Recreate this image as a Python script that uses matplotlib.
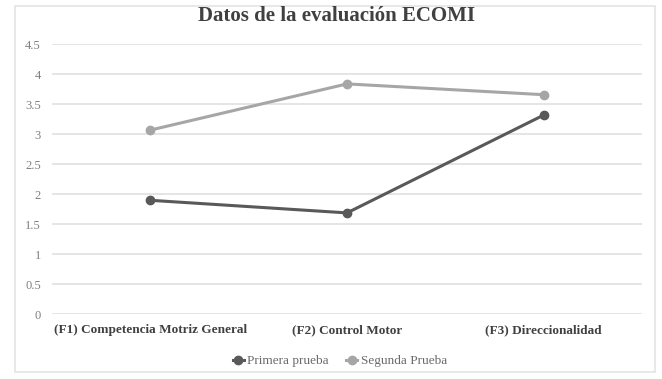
import matplotlib
matplotlib.use("Agg")
import matplotlib.pyplot as plt
from matplotlib.patches import Rectangle

categories = ["(F1) Competencia Motriz General", "(F2) Control Motor", "(F3) Direccionalidad"]
primera = [1.90, 1.69, 3.32]
segunda = [3.07, 3.84, 3.66]
series_names = ["Primera prueba", "Segunda Prueba"]
yticks = [0, 0.5, 1, 1.5, 2, 2.5, 3, 3.5, 4, 4.5]
ytick_labels = ["0", "0.5", "1", "1.5", "2", "2.5", "3", "3.5", "4", "4.5"]
title = "Datos de la evaluación ECOMI"

plt.rcParams["font.family"] = ["Liberation Serif", "DejaVu Serif"]

W, H = 662, 379
fig = plt.figure(figsize=(W / 100, H / 100), dpi=100)
fig.patch.set_facecolor("white")

# chart border
fig.patches.append(Rectangle((15 / W, 1 - 372 / H), 640 / W, 366 / H,
                             transform=fig.transFigure, fill=False,
                             edgecolor="#e4e4e4", linewidth=1.2))

ax = fig.add_axes([52 / W, 1 - 314.3 / H, 590 / W, 270 / H])
x = list(range(len(categories)))
ax.plot(x, primera, color="#595959", linewidth=2.2, marker="o", markersize=6,
        label=series_names[0], zorder=3)
ax.plot(x, segunda, color="#a6a6a6", linewidth=2.2, marker="o", markersize=6,
        label=series_names[1], zorder=3)

ax.set_xlim(-0.5, len(categories) - 0.5)
ax.set_ylim(0, 4.5)
ax.set_yticks(yticks)
ax.set_yticklabels(ytick_labels, color="#7f7f7f", fontsize=9)
ax.set_xticks(x)
ax.set_xticklabels(categories, fontsize=9.5, fontweight="bold", color="#404040")
ax.tick_params(axis="both", length=0)
ax.tick_params(axis="y", pad=8)
ax.tick_params(axis="x", pad=7)
ax.grid(axis="y", color="#e3e3e3", linewidth=1.3)
ax.set_axisbelow(True)
for s in ax.spines.values():
    s.set_visible(False)

fig.text(337 / W, 1 - 16 / H, title, ha="center", va="center",
         fontsize=15, fontweight="bold", color="#404040")

leg = fig.legend(loc="center", bbox_to_anchor=(340 / W, 1 - 361 / H), ncol=2,
                 frameon=False, fontsize=9.5, handlelength=0.8,
                 columnspacing=1.3, handletextpad=0.3)
for t in leg.get_texts():
    t.set_color("#6a6a6a")

fig.savefig("out.png", dpi=100, facecolor="white")
